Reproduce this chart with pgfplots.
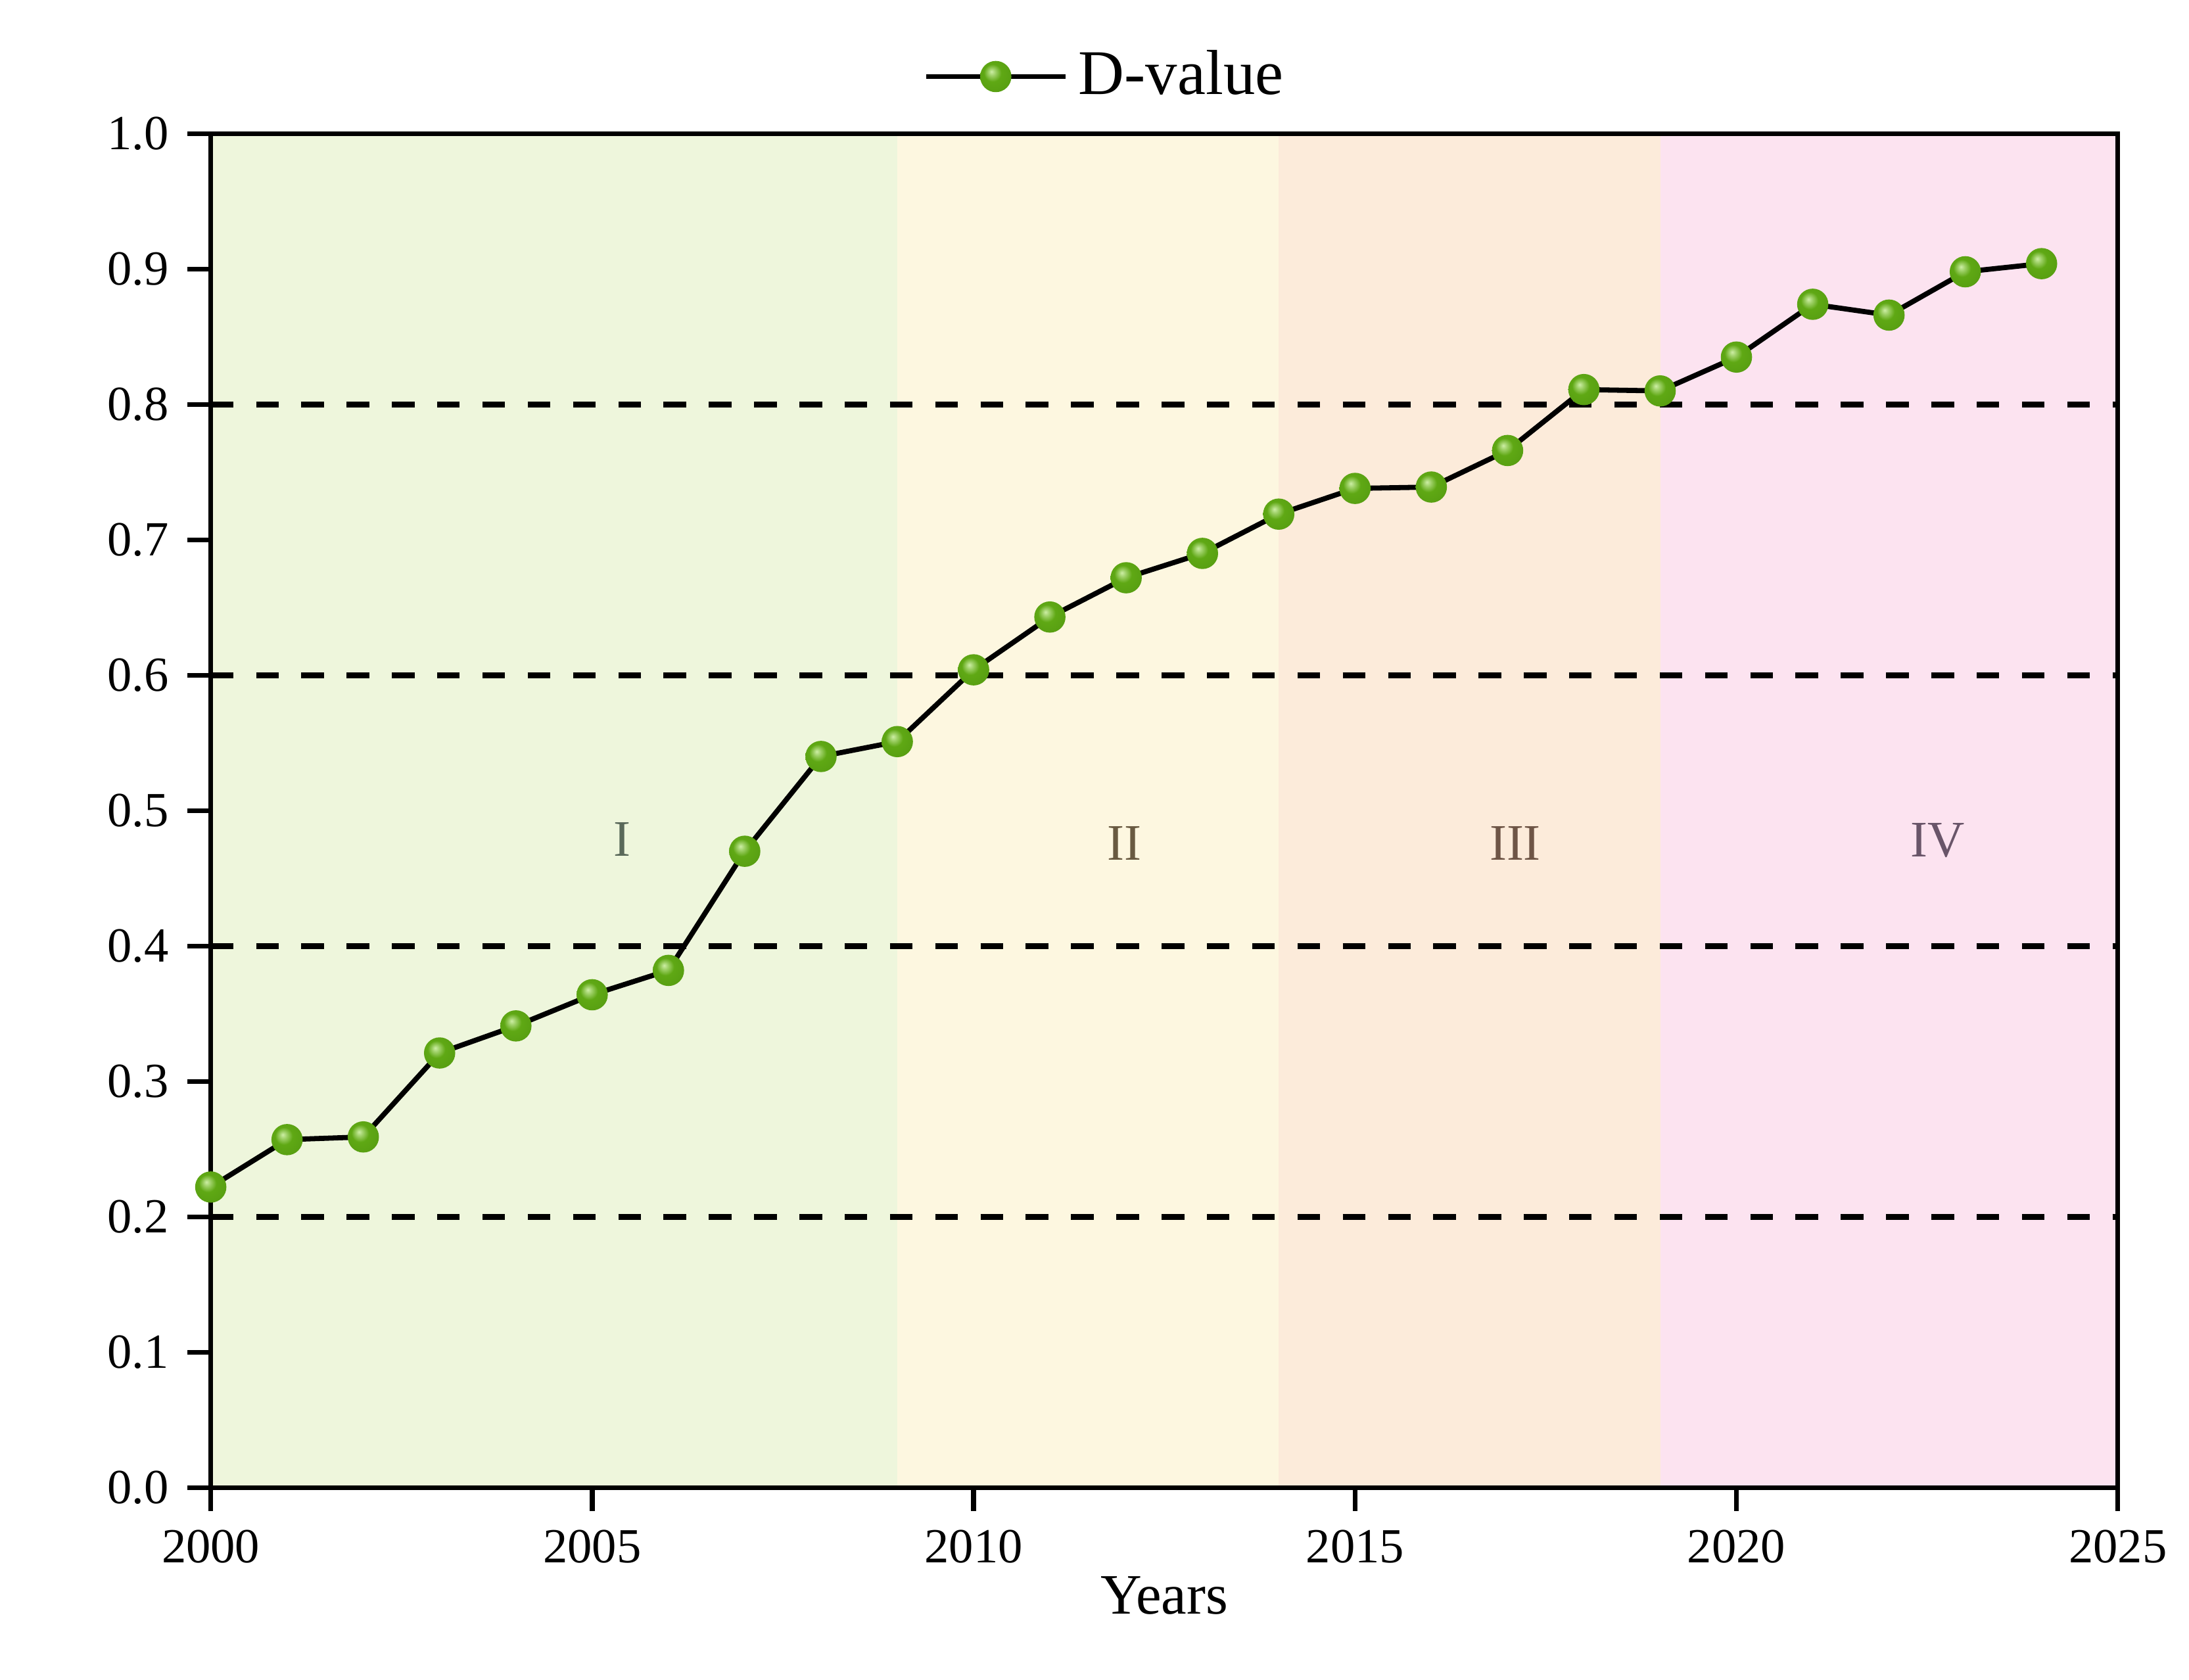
\documentclass[border=0pt]{standalone}
\usepackage{fontspec}
\setmainfont{Liberation Serif}
\usepackage{pgfplots}
\pgfplotsset{compat=1.18}
\definecolor{bgI}{RGB}{238,246,220}
\definecolor{bgII}{RGB}{253,247,224}
\definecolor{bgIII}{RGB}{252,235,218}
\definecolor{bgIV}{RGB}{252,227,240}
\definecolor{ballhi}{RGB}{205,238,165}
\definecolor{ballmid}{RGB}{95,168,20}
\definecolor{ballrim}{RGB}{62,128,10}
\definecolor{labI}{RGB}{90,105,90}
\definecolor{labII}{RGB}{105,90,65}
\definecolor{labIII}{RGB}{110,85,70}
\definecolor{labIV}{RGB}{105,85,105}
\pgfdeclareradialshading{gballshade}{\pgfqpoint{-7bp}{8bp}}{%
  color(0bp)=(ballhi);
  color(6bp)=(ballhi!55!ballmid);
  color(14bp)=(ballmid);
  color(28bp)=(ballmid!80!ballrim);
  color(36bp)=(ballrim);
  color(50bp)=(ballrim)}
\pgfdeclareplotmark{gball}{%
  \pgfpathcircle{\pgfpointorigin}{\pgfplotmarksize}%
  \pgfshadepath{gballshade}{0}%
  \pgfusepath{discard}}
\pgfplotstableread{
year d
2000 0.222
2001 0.257
2002 0.259
2003 0.321
2004 0.341
2005 0.364
2006 0.382
2007 0.470
2008 0.540
2009 0.551
2010 0.604
2011 0.643
2012 0.672
2013 0.690
2014 0.719
2015 0.738
2016 0.739
2017 0.766
2018 0.811
2019 0.810
2020 0.835
2021 0.874
2022 0.866
2023 0.898
2024 0.904
}\dvalue
\begin{document}
\begin{tikzpicture}
\path[use as bounding box] (-39.1pt,-35.7pt) rectangle (367pt,276pt);
\begin{axis}[
  at={(0,0)}, anchor=south west,
  scale only axis, width=353.8pt, height=251.2pt,
  xmin=2000, xmax=2025, ymin=0, ymax=1,
  xtick={2000,2005,2010,2015,2020,2025},
  ytick={0,0.1,0.2,0.3,0.4,0.5,0.6,0.7,0.8,0.9,1.0},
  tick align=outside, tick pos=left,
  major tick length=4.3pt,
  axis line style={line width=0.9pt},
  every tick/.style={black, line width=0.9pt},
  yticklabel style={/pgf/number format/.cd, fixed, fixed zerofill, precision=1},
  xticklabel style={/pgf/number format/1000 sep={}},
  /pgf/number format/assume math mode=true,
  ticklabel style={font=\fontsize{9.1}{10}\selectfont},
  xlabel={Years},
  xlabel style={font=\fontsize{10.6}{12}\selectfont, at={(axis description cs:0.5,0)}, anchor=base, yshift=-23.4pt},
  legend style={at={(axis description cs:0.471,1)}, anchor=center, yshift=10.6pt, draw=none, fill=none, font=\fontsize{11.8}{13}\selectfont},
  legend image code/.code={\draw[mark repeat=2, mark phase=2, #1] plot coordinates {(0pt,0pt) (12.9pt,0pt) (25.8pt,0pt)};},
  axis on top,
]
\fill[bgI] (axis cs:2000,0) rectangle (axis cs:2009,1);
\fill[bgII] (axis cs:2009,0) rectangle (axis cs:2014,1);
\fill[bgIII] (axis cs:2014,0) rectangle (axis cs:2019,1);
\fill[bgIV] (axis cs:2019,0) rectangle (axis cs:2025,1);
\addplot[black, line width=1.1pt, dash pattern=on 4.2pt off 4.2pt, forget plot] coordinates {(2000,0.2) (2025,0.2)};
\addplot[black, line width=1.1pt, dash pattern=on 4.2pt off 4.2pt, forget plot] coordinates {(2000,0.4) (2025,0.4)};
\addplot[black, line width=1.1pt, dash pattern=on 4.2pt off 4.2pt, forget plot] coordinates {(2000,0.6) (2025,0.6)};
\addplot[black, line width=1.1pt, dash pattern=on 4.2pt off 4.2pt, forget plot] coordinates {(2000,0.8) (2025,0.8)};
\node[text=labI, font=\fontsize{9.5}{11}\selectfont] at (axis cs:2005.39,0.479) {I};
\node[text=labII, font=\fontsize{9.5}{11}\selectfont] at (axis cs:2011.98,0.476) {II};
\node[text=labIII, font=\fontsize{9.5}{11}\selectfont] at (axis cs:2017.10,0.476) {III};
\node[text=labIV, font=\fontsize{9.5}{11}\selectfont] at (axis cs:2022.64,0.478) {IV};
\addplot[black, line width=0.95pt, mark=gball, mark size=2.9pt] table[x=year, y=d] {\dvalue};
\addlegendentry{D-value}
\end{axis}
\end{tikzpicture}
\end{document}
